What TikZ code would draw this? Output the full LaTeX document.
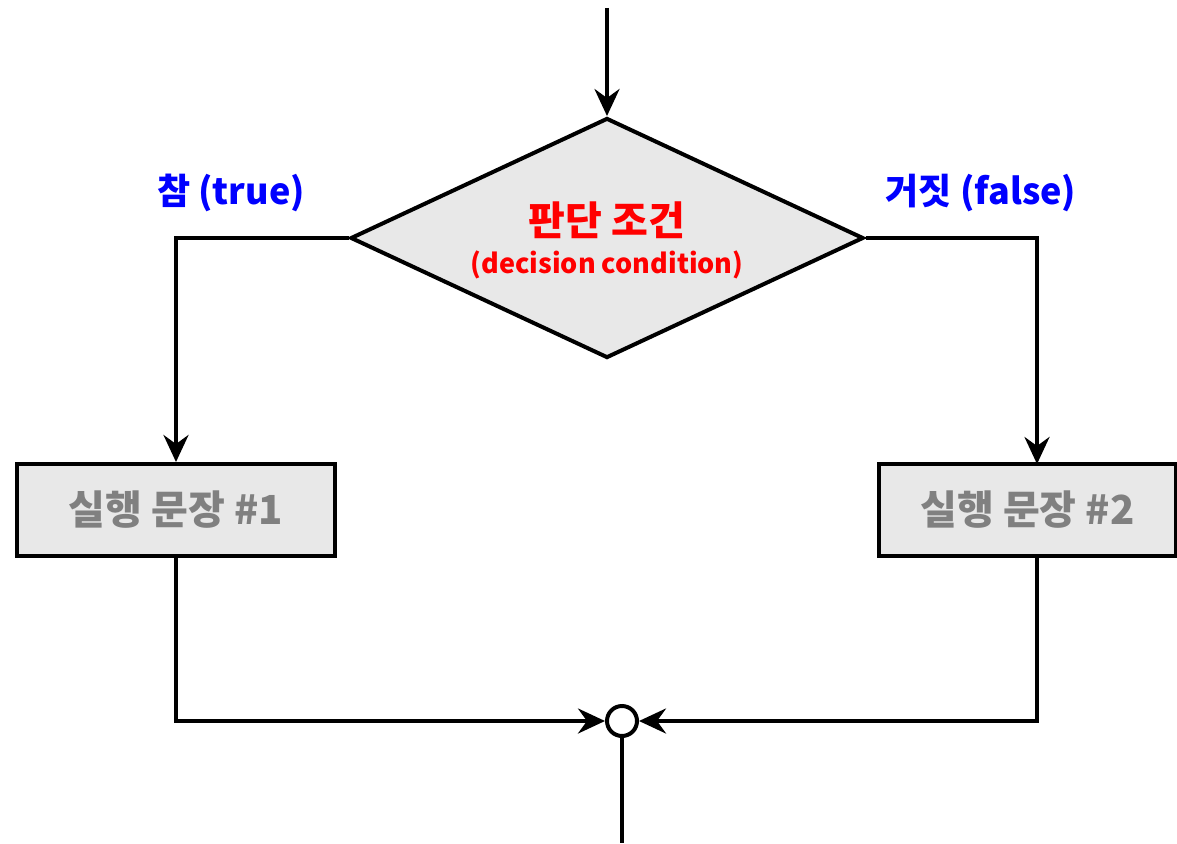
\documentclass[tikz,border=0pt]{standalone}
\usepackage{fontspec}
\setmainfont{Noto Sans CJK KR}
\usetikzlibrary{shapes.geometric,arrows.meta}
\definecolor{boxgray}{HTML}{E8E8E8}
\definecolor{txtgray}{HTML}{808080}
\tikzset{
  flow/.style={line width=4pt, -{Stealth[length=27pt,width=25pt,inset=9pt]}},
  plain/.style={line width=4pt},
  stepbox/.style={draw, line width=4pt, fill=boxgray, minimum height=92pt, inner sep=0pt, font=\bfseries\fontsize{40}{44}\selectfont, text=txtgray},
  cond/.style={diamond, draw, line width=4pt, fill=boxgray, shape aspect=2.14, minimum width=513pt, minimum height=240pt, inner sep=0pt},
  condtxt/.style={text=red, inner sep=0pt},
  lbl/.style={text=blue, font=\bfseries\fontsize{36}{40}\selectfont}
}
\begin{document}
\begin{tikzpicture}[x=1pt,y=-1pt]
\useasboundingbox (0,0) rectangle (1177,843);
\coordinate (start) at (607,8);
\coordinate (finish) at (622,843);
\node[cond] (d) at (607,238) {};
\node[condtxt, font=\bfseries\fontsize{40}{44}\selectfont] (dt1) at (607,220) {판단 조건};
\node[condtxt, font=\bfseries\fontsize{27}{30}\selectfont] (dt2) at (607,265) {(decision condition)};
\node[stepbox, minimum width=318pt] (b1) at (176,510) {실행 문장 \#1};
\node[stepbox, minimum width=297pt] (b2) at (1027.5,510) {실행 문장 \#2};
\node[circle, draw, line width=4pt, fill=white, minimum size=30pt, inner sep=0pt] (j) at (622,721) {};
\node[lbl] (t) at (231,193) {참 (true)};
\node[lbl] (f) at (981,193) {거짓 (false)};
\draw[flow] (start) -- (d.north);
\draw[flow] (d.west) -| (b1.north);
\draw[flow] (d.east) -| (1037,464) coordinate (b2top);
\draw[flow] (b1.south) |- (j.west);
\draw[flow] (1037,556) coordinate (b2bot) |- (j.east);
\draw[plain] (j.south) -- (finish);
\end{tikzpicture}
\end{document}
